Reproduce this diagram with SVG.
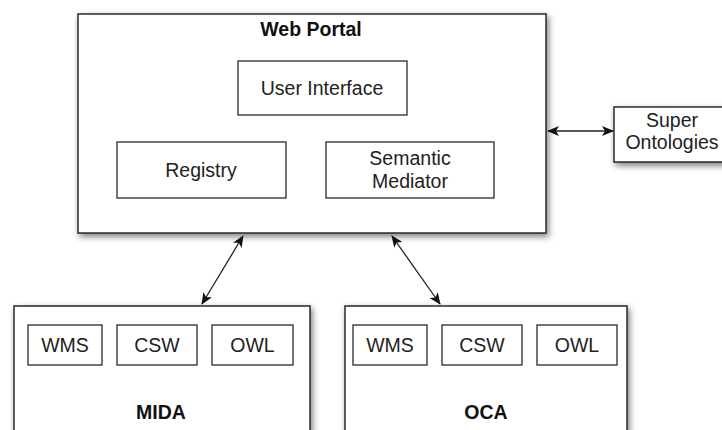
<svg xmlns="http://www.w3.org/2000/svg" width="722" height="430" viewBox="0 0 722 430">
<defs>
<filter id="sh" x="-10%" y="-10%" width="130%" height="130%">
<feDropShadow dx="2" dy="3" stdDeviation="3" flood-color="#000" flood-opacity="0.5"/>
</filter>
<marker id="ah" viewBox="0 0 12 10" refX="11" refY="5" markerWidth="13" markerHeight="10" markerUnits="userSpaceOnUse" orient="auto-start-reverse">
<path d="M0,0 L12,5 L0,10 L3,5 z" fill="#111"/>
</marker>
</defs>
<style>
.outer{fill:#fff;stroke:#2a2a2a;stroke-width:1.5;filter:url(#sh)}
.inner{fill:#fff;stroke:#2a2a2a;stroke-width:1.3}
text{font-family:"Liberation Sans",Arial,sans-serif;font-size:19.5px;fill:#222;text-anchor:middle}
.b{font-weight:bold;fill:#111}
.conn{stroke:#222;stroke-width:1.3;fill:none;marker-start:url(#ah);marker-end:url(#ah)}
</style>
<rect width="722" height="430" fill="#fff"/>
<g id="web-portal">
<rect class="outer" x="78" y="14" width="468" height="219"/>
<text class="b" x="311" y="36">Web Portal</text>
</g>
<g id="user-interface">
<rect class="inner" x="238" y="61" width="169" height="54"/>
<text x="322" y="95">User Interface</text>
</g>
<g id="registry">
<rect class="inner" x="117" y="142" width="169" height="56"/>
<text x="201" y="177">Registry</text>
</g>
<g id="semantic-mediator">
<rect class="inner" x="326" y="142" width="168" height="56"/>
<text x="410" y="165">Semantic</text>
<text x="410" y="188">Mediator</text>
</g>
<g id="super-ontologies">
<rect class="outer" x="614" y="107" width="116" height="55"/>
<text x="672" y="127">Super</text>
<text x="672" y="149">Ontologies</text>
</g>
<g id="mida">
<rect class="outer" x="14" y="306" width="296" height="140"/>
<text class="b" x="161" y="419">MIDA</text>
</g>
<g id="mida-wms"><rect class="inner" x="28" y="325" width="74" height="40"/><text x="65" y="352">WMS</text></g>
<g id="mida-csw"><rect class="inner" x="117" y="325" width="80" height="40"/><text x="157" y="352">CSW</text></g>
<g id="mida-owl"><rect class="inner" x="212" y="325" width="81" height="40"/><text x="252.5" y="352">OWL</text></g>
<g id="oca">
<rect class="outer" x="345" y="306" width="282" height="140"/>
<text class="b" x="486" y="419">OCA</text>
</g>
<g id="oca-wms"><rect class="inner" x="353" y="325" width="74" height="40"/><text x="390" y="352">WMS</text></g>
<g id="oca-csw"><rect class="inner" x="442" y="325" width="80" height="40"/><text x="482" y="352">CSW</text></g>
<g id="oca-owl"><rect class="inner" x="537" y="325" width="80" height="40"/><text x="577" y="352">OWL</text></g>
<g id="connectors">
<line class="conn" x1="548" y1="131" x2="613" y2="131"/>
<line class="conn" x1="243" y1="236" x2="202" y2="304"/>
<line class="conn" x1="392" y1="236" x2="440" y2="304"/>
</g>
</svg>
